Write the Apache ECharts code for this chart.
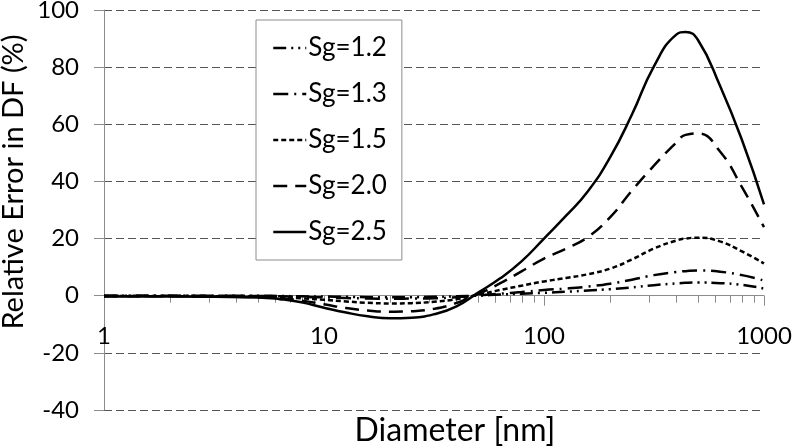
<!DOCTYPE html>
<html>
<head>
<meta charset="utf-8">
<script src="https://cdn.jsdelivr.net/npm/echarts@6/dist/echarts.min.js"></script>
<style>
  html, body { margin: 0; padding: 0; background: #fff; }
  #chart { width: 792px; height: 448px; }
</style>
</head>
<body>
<div id="chart"></div>
<script>
// particle diameter [nm] on a roughly log-even grid
const diameters = [1, 2, 3.2, 5, 6.3, 7.9, 10, 12.6, 15.8, 20, 25, 31.6, 39.8, 50, 63, 79,
  100, 126, 158, 200, 251, 316, 398, 440, 501, 631, 794, 1000]

// relative error in DF [%]
const err12 = [0, 0, 0, 0, -0.1, -0.2, -0.3, -0.4, -0.5, -0.5, -0.5, -0.4, -0.2, 0, 0.4, 0.7,
  1, 1.4, 1.8, 2.3, 2.9, 3.7, 4.3, 4.5, 4.6, 4.4, 3.8, 2.5]
const err13 = [0, 0, 0, -0.1, -0.2, -0.4, -0.6, -0.8, -1.0, -1.1, -1.0, -0.9, -0.5, 0.1, 0.7, 1.3,
  2, 2.5, 3.2, 4.2, 5.6, 7.2, 8.3, 8.6, 8.8, 8.4, 7.2, 5.3]
const err15 = [-0.1, -0.1, -0.2, -0.3, -0.5, -0.9, -1.4, -2.0, -2.5, -2.7, -2.6, -2.1, -1.2, 0.3, 2.0, 3.5,
  5, 6.2, 7.5, 9.5, 12.7, 16.5, 19.3, 20.0, 20.3, 19.0, 15.5, 11.3]
const err20 = [-0.2, -0.2, -0.3, -0.5, -0.9, -1.7, -3.0, -4.3, -5.2, -5.6, -5.4, -4.6, -2.6, 0.5, 4.3, 8.5,
  13, 16.5, 20.5, 27.5, 36.8, 45.5, 53.5, 56.3, 56.8, 50.5, 38, 24]
const err25 = [-0.3, -0.3, -0.4, -0.6, -1.2, -2.3, -4.2, -5.9, -7.2, -7.9, -7.7, -6.5, -3.8, 1, 6, 12,
  20, 28, 36.5, 48.5, 63.4, 80.3, 91.3, 92.3, 89.5, 73.5, 54.5, 32]

const seriesNames = ['Sg=1.2', 'Sg=1.3', 'Sg=1.5', 'Sg=2.0', 'Sg=2.5']
const minorTicks = [2, 3, 4, 5, 6, 7, 8, 9, 20, 30, 40, 50, 60, 70, 80, 90, 200, 300, 400, 500, 600, 700, 800, 900]

const font = 'Lato, "Open Sans", sans-serif'
// y = 0 sits 114.3px above the bottom of the plot (-40..100 over 400px)
const zeroOffset = -114.3

function pairs(xs, ys) {
  return xs.map(function (x, i) { return [x, ys[i]] })
}

const lines = [
  { y: err12, dash: [13, 5, 2, 5, 2, 5] },
  { y: err13, dash: [15, 6, 2, 6] },
  { y: err15, dash: [5, 3] },
  { y: err20, dash: [14, 8] },
  { y: err25, dash: 'solid' }
]

const chart = echarts.init(document.getElementById('chart'))

chart.setOption({
  animation: false,
  backgroundColor: '#fff',
  grid: { left: 104, right: 28, top: 10, bottom: 38, outerBoundsMode: 'none' },
  legend: {
    orient: 'vertical',
    left: 256,
    top: 20,
    padding: [15, 15, 15, 16],
    backgroundColor: '#fff',
    borderColor: '#8c8c8c',
    borderWidth: 1,
    itemWidth: 33,
    itemHeight: 14,
    itemGap: 20,
    textStyle: { fontFamily: font, fontSize: 26, color: '#000', lineHeight: 25, padding: [0, 0, 0, -3] },
    data: lines.map(function (l, i) {
      return {
        name: seriesNames[i],
        itemStyle: { color: 'rgba(0,0,0,0)', borderColor: 'rgba(0,0,0,0)', borderWidth: 0 },
        lineStyle: { color: '#000', width: 2.5, type: l.dash }
      }
    })
  },
  xAxis: [{
    type: 'log',
    logBase: 10,
    min: 1,
    max: 1000,
    position: 'bottom',
    offset: zeroOffset,
    name: 'Diameter [nm]',
    nameLocation: 'middle',
    nameGap: 119,
    nameMoveOverlap: false,
    nameTextStyle: { fontFamily: font, fontSize: 32, color: '#000', padding: [0, 0, 0, 42] },
    axisLine: { onZero: false, lineStyle: { color: '#8c8c8c', width: 1 } },
    axisTick: { show: true, length: 7, customValues: minorTicks, lineStyle: { color: '#8c8c8c' } },
    axisLabel: {
      fontFamily: font, fontSize: 24, color: '#000', margin: 29,
      formatter: function (v) { return String(v) }
    },
    splitLine: { show: false }
  }, {
    type: 'log',
    logBase: 10,
    min: 1,
    max: 1000,
    position: 'bottom',
    offset: zeroOffset,
    axisLine: { show: false, onZero: false },
    axisTick: { show: true, length: 10, lineStyle: { color: '#8c8c8c' } },
    axisLabel: { show: false },
    splitLine: { show: false }
  }],
  yAxis: {
    type: 'value',
    min: -40,
    max: 100,
    interval: 20,
    name: 'Relative Error in DF (%)',
    nameLocation: 'middle',
    nameGap: 76,
    nameMoveOverlap: false,
    nameTextStyle: { fontFamily: font, fontSize: 29, color: '#000', padding: [0, 0, 0, 56] },
    axisLine: { show: true, lineStyle: { color: '#8c8c8c', width: 1 } },
    axisTick: { show: true, length: 10, lineStyle: { color: '#8c8c8c' } },
    axisLabel: { fontFamily: font, fontSize: 24, color: '#000', margin: 25 },
    splitLine: { show: true, lineStyle: { color: '#555', type: [8, 4], width: 1 } }
  },
  series: lines.map(function (l, i) {
    return {
      name: seriesNames[i],
      type: 'line',
      xAxisIndex: 0,
      data: pairs(diameters, l.y),
      smooth: 0.5,
      symbol: 'none',
      lineStyle: { color: '#000', width: 2.5, type: l.dash },
      itemStyle: { color: '#000' },
      z: 3
    }
  })
})
</script>
</body>
</html>
